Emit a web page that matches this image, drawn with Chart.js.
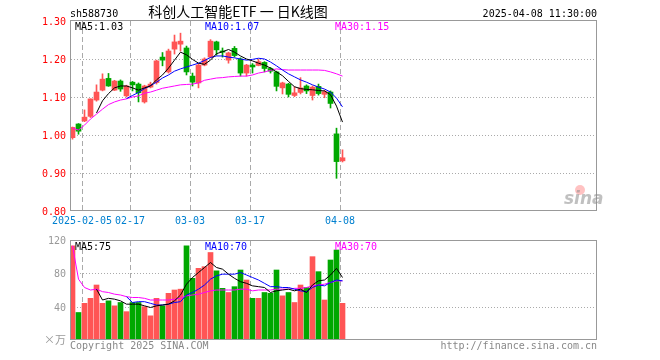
<!DOCTYPE html>
<html>
<head>
<meta charset="utf-8">
<script src="https://cdn.jsdelivr.net/npm/chart.js@4.4.1/dist/chart.umd.min.js"></script>
<style>
body { margin: 0; background: #fff; }
#wrap { position: relative; width: 660px; height: 360px; }
canvas { position: absolute; left: 0; top: 0; }
</style>
</head>
<body>
<div id="wrap">
<canvas id="kChart" width="660" height="360"></canvas>
<canvas id="volChart" width="660" height="360"></canvas>
</div>
<script>
var dates = ['2025-01-24','2025-01-27','2025-02-05','2025-02-06','2025-02-07','2025-02-10','2025-02-11','2025-02-12','2025-02-13','2025-02-14',
    '2025-02-17','2025-02-18','2025-02-19','2025-02-20','2025-02-21','2025-02-24','2025-02-25','2025-02-26','2025-02-27','2025-02-28',
    '2025-03-03','2025-03-04','2025-03-05','2025-03-06','2025-03-07','2025-03-10','2025-03-11','2025-03-12','2025-03-13','2025-03-14',
    '2025-03-17','2025-03-18','2025-03-19','2025-03-20','2025-03-21','2025-03-24','2025-03-25','2025-03-26','2025-03-27','2025-03-28',
    '2025-03-31','2025-04-01','2025-04-02','2025-04-03','2025-04-07','2025-04-08'];

var open  = [0.993,1.029,1.037,1.049,1.092,1.118,1.149,1.118,1.142,1.103, 1.139,1.134,1.087,1.126,1.138,1.205,1.166,1.226,1.239,1.229,
             1.155,1.137,1.184,1.205,1.245,1.221,1.197,1.228,1.200,1.163, 1.184,1.183,1.191,1.175,1.166,1.124,1.134,1.104,1.112,1.129,
             1.104,1.128,1.107,1.113,1.003,0.932];
var high  = [1.021,1.030,1.066,1.095,1.132,1.161,1.162,1.144,1.145,1.131, 1.141,1.137,1.131,1.139,1.197,1.217,1.226,1.263,1.268,1.234,
             1.163,1.187,1.203,1.251,1.247,1.229,1.218,1.233,1.203,1.186, 1.188,1.199,1.193,1.178,1.168,1.139,1.136,1.127,1.151,1.132,
             1.129,1.134,1.118,1.116,1.018,0.961];
var low   = [0.989,1.002,1.035,1.046,1.089,1.116,1.128,1.117,1.115,1.100, 1.116,1.087,1.084,1.124,1.134,1.182,1.163,1.213,1.221,1.158,
             1.129,1.124,1.182,1.203,1.210,1.205,1.189,1.205,1.155,1.155, 1.163,1.182,1.166,1.163,1.116,1.108,1.100,1.101,1.108,1.109,
             1.092,1.105,1.098,1.071,0.886,0.929];
var close = [1.020,1.010,1.047,1.095,1.113,1.147,1.129,1.142,1.121,1.129, 1.132,1.111,1.129,1.134,1.195,1.197,1.221,1.245,1.247,1.166,
             1.139,1.184,1.200,1.247,1.224,1.218,1.216,1.209,1.163,1.184, 1.179,1.193,1.175,1.168,1.128,1.137,1.107,1.111,1.124,1.116,
             1.126,1.109,1.114,1.083,0.930,0.940];

var ma5  = [null,null,null,null,1.058,1.090,1.109,1.124,1.129,1.129, 1.124,1.118,1.124,1.129,1.145,1.158,1.176,1.197,1.218,1.211,
            1.199,1.189,1.186,1.197,1.214,1.219,1.225,1.218,1.208,1.200, 1.195,1.189,1.184,1.176,1.166,1.156,1.141,1.127,1.122,1.120,
            1.119,1.117,1.116,1.106,1.076,1.034];
var ma10 = [null,null,null,null,null,null,null,null,null,1.096, 1.104,1.112,1.122,1.130,1.139,1.150,1.158,1.168,1.174,1.179,
            1.184,1.189,1.196,1.204,1.208,1.208,1.205,1.203,1.200,1.197, 1.199,1.202,1.200,1.192,1.182,1.171,1.161,1.153,1.145,1.139,
            1.132,1.126,1.121,1.113,1.097,1.074];
var ma30 = [1.018,1.013,1.026,1.042,1.055,1.068,1.080,1.087,1.092,1.095, 1.100,1.103,1.110,1.113,1.118,1.123,1.126,1.129,1.132,1.133,
            1.134,1.137,1.144,1.147,1.150,1.151,1.153,1.154,1.155,1.155, 1.158,1.163,1.166,1.170,1.174,1.172,1.171,1.171,1.171,1.171,
            1.171,1.171,1.170,1.166,1.161,1.155];

var volume = [113,33,44,50,66,44,47,41,45,34, 45,45,40,29,50,41,56,60,61,113,
              74,86,88,105,83,62,57,64,84,72, 50,50,57,56,84,53,57,45,66,63,
              100,82,48,96,108,44];
var volMa5  = [null,null,null,null,61,48,50,49,47,43, 43,43,41,39,41,42,43,47,54,67,
               75,81,87,93,87,85,79,74,70,68, 65,64,63,57,59,60,61,59,61,57,
               66,71,72,78,86,75];
var volMa10 = [null,null,null,null,null,null,null,null,null,52, 45,46,46,44,42,42,43,45,46,54,
               57,61,66,73,77,79,79,79,81,78, 75,72,68,64,64,63,63,61,59,58,
               63,66,65,69,72,71];
var volMa30 = [113,73,63,60,61,58,57,55,54,52, 51,51,50,48,48,48,48,49,50,53,
               54,55,57,59,60,60,60,60,61,61, 59,60,60,60,61,61,61,62,62,63,
               65,66,67,69,71,71];

var tickDates  = ['2025-02-05','2025-02-17','2025-03-03','2025-03-17','2025-04-08'];
var tickLabels = ['2025-02-05','02-17','03-03','03-17','04-08'];
var priceTicks = [0.8, 0.9, 1.0, 1.1, 1.2, 1.3];
var volTicks   = [40, 80, 120];

var UP = '#ff5555', DOWN = '#00a800';
var MONO = '10px "DejaVu Sans Mono", monospace';

function xOf(i) { return i + 5 / 12; }
function points(arr) {
    var out = [];
    for (var i = 0; i < arr.length; i++) {
        if (arr[i] !== null) out.push({ x: xOf(i), y: arr[i] });
    }
    return out;
}
var colors = close.map(function (c, i) { return c >= open[i] ? UP : DOWN; });
var tickIdx = tickDates.map(function (d) { return dates.indexOf(d); });

function maLine(arr, color) {
    return { type: 'line', data: points(arr), borderColor: color, borderWidth: 1, pointRadius: 0, order: 0 };
}

function panelPlugin(cfg) {
    return {
        id: 'panel',
        beforeDatasetsDraw: function (chart) {
            var ctx = chart.ctx, a = chart.chartArea, xs = chart.scales.x, ys = chart.scales.y;
            ctx.save();
            ctx.strokeStyle = '#aaa';
            ctx.lineWidth = 1;
            ctx.setLineDash([1, 2]);
            cfg.grid.forEach(function (v) {
                var y = Math.round(ys.getPixelForValue(v)) + 0.5;
                ctx.beginPath(); ctx.moveTo(a.left + 1, y); ctx.lineTo(a.right + 1, y); ctx.stroke();
            });
            ctx.setLineDash([5, 3]);
            tickIdx.forEach(function (i) {
                var x = Math.round(xs.getPixelForValue(i)) + 0.5;
                ctx.beginPath(); ctx.moveTo(x, cfg.frame[1] + 1); ctx.lineTo(x, cfg.frame[3]); ctx.stroke();
            });
            ctx.restore();
        },
        afterDatasetsDraw: function (chart) {
            var ctx = chart.ctx, f = cfg.frame;
            ctx.save();
            ctx.strokeStyle = '#999';
            ctx.lineWidth = 1;
            ctx.strokeRect(f[0] + 0.5, f[1] + 0.5, f[2] - f[0], f[3] - f[1]);
            ctx.restore();
        },
        afterDraw: function (chart) { cfg.text(chart.ctx, chart.scales.x, chart.scales.y); }
    };
}

new Chart(document.getElementById('kChart'), {
    type: 'bar',
    data: {
        datasets: [
            maLine(ma5, '#000000'),
            maLine(ma10, '#0000ff'),
            maLine(ma30, '#ff00ff'),
            {
                data: dates.map(function (d, i) { return { x: xOf(i), y: [open[i], close[i]] }; }),
                backgroundColor: colors, barThickness: 5, grouped: false, minBarLength: 1, order: 4
            },
            {
                data: dates.map(function (d, i) { return { x: xOf(i), y: [low[i], high[i]] }; }),
                backgroundColor: colors, barThickness: 1, grouped: false, order: 5
            }
        ]
    },
    options: {
        responsive: false, animation: false, devicePixelRatio: 1, events: [],
        layout: { padding: { left: 70, right: 63, top: 21, bottom: 149 } },
        plugins: { legend: { display: false }, tooltip: { enabled: false } },
        scales: {
            x: { type: 'linear', min: 0, max: 527 / 6, offset: false, display: false },
            y: { min: 0.8, max: 1.3, display: false }
        }
    },
    plugins: [panelPlugin({
        grid: [0.9, 1.0, 1.1, 1.2],
        frame: [70, 20, 596, 210],
        text: function (ctx, xs, ys) {
            ctx.save();
            ctx.font = MONO;
            ctx.textBaseline = 'middle';
            ctx.textAlign = 'right';
            ctx.fillStyle = '#ff0000';
            priceTicks.forEach(function (v) {
                ctx.fillText(v.toFixed(2), 66, Math.round(ys.getPixelForValue(v)) + 1);
            });
            ctx.textAlign = 'center';
            ctx.fillStyle = '#0080d0';
            tickIdx.forEach(function (i, k) {
                ctx.fillText(tickLabels[k], Math.round(xs.getPixelForValue(i)), 221);
            });
            ctx.textBaseline = 'alphabetic';
            ctx.textAlign = 'left';
            ctx.fillStyle = '#000';
            ctx.fillText('sh588730', 70, 17);
            ctx.fillText('MA5:' + ma5[ma5.length - 1].toFixed(2).slice(0, 4), 75, 29.5);
            ctx.fillStyle = '#0000ff';
            ctx.fillText('MA10:' + ma10[ma10.length - 1].toFixed(3).slice(0, 4), 205, 29.5);
            ctx.fillStyle = '#ff00ff';
            ctx.fillText('MA30:' + ma30[ma30.length - 1].toFixed(3).slice(0, 4), 335, 29.5);
            ctx.textAlign = 'right';
            ctx.fillStyle = '#000';
            ctx.fillText('2025-04-08 11:30:00', 597, 17);
            ctx.textAlign = 'center';
            ctx.textBaseline = 'middle';
            ctx.font = '14px "Noto Sans CJK SC", sans-serif';
            ctx.fillText('科创人工智能ETF 一 日K线图', 238, 12);
            // sina watermark
            ctx.fillStyle = 'rgba(255,120,120,0.45)';
            ctx.beginPath(); ctx.arc(580, 190, 5, 0, Math.PI * 2); ctx.fill();
            ctx.font = 'italic bold 17px "DejaVu Sans", sans-serif';
            ctx.textAlign = 'left';
            ctx.textBaseline = 'alphabetic';
            ctx.fillStyle = 'rgba(140,140,140,0.55)';
            ctx.fillText('sina', 564, 204);
            ctx.restore();
        }
    })]
});

new Chart(document.getElementById('volChart'), {
    type: 'bar',
    data: {
        datasets: [
            maLine(volMa5, '#000000'),
            maLine(volMa10, '#0000ff'),
            maLine(volMa30, '#ff00ff'),
            {
                data: dates.map(function (d, i) { return { x: xOf(i), y: volume[i] }; }),
                backgroundColor: colors, barThickness: 5, grouped: false, order: 4
            }
        ]
    },
    options: {
        responsive: false, animation: false, devicePixelRatio: 1, events: [],
        layout: { padding: { left: 70, right: 63, top: 240, bottom: 20 } },
        plugins: { legend: { display: false }, tooltip: { enabled: false } },
        scales: {
            x: { type: 'linear', min: 0, max: 527 / 6, offset: false, display: false },
            y: { min: 0, max: 120, display: false }
        }
    },
    plugins: [panelPlugin({
        grid: [40, 80],
        frame: [70, 240, 596, 339],
        text: function (ctx, xs, ys) {
            ctx.save();
            ctx.font = MONO;
            ctx.textBaseline = 'middle';
            ctx.textAlign = 'right';
            ctx.fillStyle = '#999';
            volTicks.forEach(function (v) {
                ctx.fillText(String(v), 66, Math.round(ys.getPixelForValue(v)) + 1);
            });
            ctx.font = '11px "Noto Sans CJK SC", sans-serif';
            ctx.fillText('×万', 66, 340);
            ctx.font = MONO;
            ctx.textBaseline = 'alphabetic';
            ctx.textAlign = 'left';
            ctx.fillStyle = '#000';
            ctx.fillText('MA5:' + Math.floor(volMa5[volMa5.length - 1]), 75, 250);
            ctx.fillStyle = '#0000ff';
            ctx.fillText('MA10:' + Math.floor(volMa10[volMa10.length - 1] - 1), 205, 250);
            ctx.fillStyle = '#ff00ff';
            ctx.fillText('MA30:' + Math.floor(volMa30[volMa30.length - 1] - 1), 335, 250);
            ctx.fillStyle = '#888';
            ctx.fillText('Copyright 2025 SINA.COM', 70, 349);
            ctx.textAlign = 'right';
            ctx.fillText('http://finance.sina.com.cn', 597, 349);
            ctx.restore();
        }
    })]
});
</script>
</body>
</html>
